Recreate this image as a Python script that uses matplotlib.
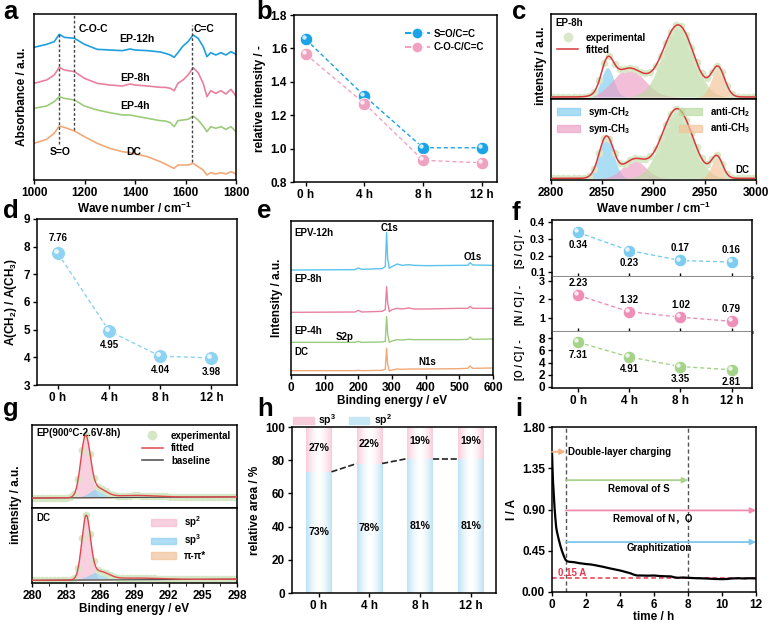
import numpy as np
import matplotlib
matplotlib.use("Agg")
import matplotlib.pyplot as plt
from matplotlib import transforms
from matplotlib.lines import Line2D
from matplotlib.patches import Patch

plt.rcParams["font.family"] = ["Liberation Sans", "DejaVu Sans", "Noto Sans CJK SC"]
plt.rcParams["font.weight"] = "bold"
plt.rcParams["axes.labelweight"] = "bold"
plt.rcParams["mathtext.fontset"] = "custom"
plt.rcParams["mathtext.rm"] = "Liberation Sans:bold"
plt.rcParams["mathtext.it"] = "Liberation Sans:bold"
plt.rcParams["mathtext.bf"] = "Liberation Sans:bold"
plt.rcParams["mathtext.default"] = "rm"
plt.rcParams["axes.linewidth"] = 1.1

BLUE, PINK, GREEN, ORANGE = "#1E9FE0", "#E8819F", "#9DCB7C", "#F0AA78"

# ---------------- data ----------------
# (a) FTIR, a.u.
ftir_wn = [1000, 1050, 1080, 1100, 1120, 1160, 1200, 1250, 1300, 1350, 1380, 1400, 1450, 1500, 1520,
           1540, 1555, 1570, 1590, 1610, 1630, 1650, 1670, 1685, 1700, 1720, 1740, 1760, 1780, 1800]
ftir_12h = [398, 407, 415, 437, 428, 425, 407, 392, 390, 388, 393, 390, 388, 384, 380,
            375, 368, 382, 402, 415, 435, 425, 400, 370, 382, 375, 382, 375, 385, 377]
ftir_8h = [290, 300, 315, 338, 330, 325, 305, 290, 285, 282, 288, 285, 282, 278, 278,
           275, 268, 290, 300, 315, 337, 322, 290, 250, 268, 260, 268, 258, 272, 252]
ftir_4h = [215, 222, 235, 250, 245, 240, 222, 210, 202, 195, 195, 192, 185, 178, 177,
           172, 160, 178, 180, 182, 192, 180, 162, 145, 160, 155, 160, 152, 160, 145]
ftir_dc = [110, 122, 140, 162, 158, 147, 130, 110, 95, 85, 82, 78, 70, 55, 48,
           40, 35, 45, 45, 45, 50, 40, 30, 15, 22, 18, 22, 18, 25, 18]

times = ["0 h", "4 h", "8 h", "12 h"]
# (b)
so_cc = [1.655, 1.315, 1.005, 1.005]
coc_cc = [1.565, 1.27, 0.93, 0.915]

# (c) fitted peaks: centre, height, width
c_names = ["sym-CH$_2$", "sym-CH$_3$", "anti-CH$_2$", "anti-CH$_3$"]
c_ep_center = [2855, 2876, 2924, 2963]
c_ep_height = [88, 85, 215, 85]
c_ep_width = [6, 15, 15, 6.5]
c_dc_center = [2854, 2881, 2923, 2962]
c_dc_height = [125, 55, 210, 62]
c_dc_width = [7, 11, 15, 5.5]

# (d)
ch_ratio = [7.76, 4.95, 4.04, 3.98]

# (e) XPS survey
xps_ev = [0, 190, 200, 210, 270, 280, 284, 287, 292, 300, 315, 330, 350, 365, 400, 500, 525, 532, 540, 600]
xps_dc = [0, 0, 1, 0, 1, 4, 67, 20, 0, 2, 5, 4, 5, 5, 5, 6, 7, 14, 7, 8]
xps_4h = [0, 0, 3, 0, 1, 3, 77, 25, 0, 4, 8, 7, 9, 8, 8, 8, 9, 16, 9, 10]
xps_8h = [0, 1, 6, 1, 3, 8, 77, 30, 2, 8, 12, 10, 13, 10, 10, 12, 12, 18, 12, 12]
xps_12h = [0, 1, 6, 2, 4, 10, 112, 35, 5, 10, 18, 14, 16, 14, 13, 14, 14, 22, 15, 14]
xps_offset = [13, 98, 188, 315]

# (f)
s_c = [0.34, 0.23, 0.17, 0.16]
n_c = [2.23, 1.32, 1.02, 0.79]
o_c = [7.31, 4.91, 3.35, 2.81]

# (g) C1s fit: sp2, sp3, pi-pi*
g_names = ["sp$^2$", "sp$^3$", "π-π*"]
g_ep_center = [284.7, 285.8, 289.0]
g_ep_height = [180, 26, 6]
g_ep_width = [0.42, 0.7, 2.0]
g_dc_center = [284.75, 285.9, 289.0]
g_dc_height = [185, 24, 5]
g_dc_width = [0.38, 0.8, 2.2]

# (h)
sp2_area = [73, 78, 81, 81]
sp3_area = [27, 22, 19, 19]

# (i) current vs time
t_h = [0, 0.03, 0.06, 0.1, 0.15, 0.2, 0.25, 0.3, 0.4, 0.5, 0.6, 0.7, 0.8, 0.9, 1.0, 1.3, 1.6, 2.0,
       2.3, 2.6, 3.0, 3.3, 3.6, 4.0, 4.3, 4.6, 4.8, 5.0, 5.3, 5.6, 6.0, 6.3, 6.6, 7.0, 7.2, 7.4,
       7.7, 8.0, 8.3, 8.6, 9.0, 9.3, 9.6, 10.0, 10.3, 10.6, 11.0, 11.3, 11.6, 12.0]
current = [1.53, 1.35, 1.2, 1.08, 0.92, 0.8, 0.7, 0.65, 0.57, 0.5, 0.44, 0.39, 0.35, 0.335, 0.33,
           0.325, 0.315, 0.305, 0.3, 0.29, 0.275, 0.262, 0.25, 0.235, 0.22, 0.205, 0.19, 0.18,
           0.18, 0.178, 0.18, 0.175, 0.172, 0.17, 0.16, 0.155, 0.158, 0.155, 0.152, 0.15, 0.148,
           0.145, 0.142, 0.14, 0.142, 0.148, 0.15, 0.147, 0.15, 0.148]

W, H = 769, 623
fig = plt.figure(figsize=(W / 100, H / 100), dpi=100)


def px_axes(l, t, r, b):
    return fig.add_axes([l / W, 1 - b / H, (r - l) / W, (b - t) / H])


def style(ax, size=8.5):
    ax.tick_params(direction="out", length=3, width=1, labelsize=size, pad=2)
    for lab in ax.get_xticklabels() + ax.get_yticklabels():
        lab.set_fontweight("bold")


def gauss(x, c, h, s):
    return h * np.exp(-0.5 * ((x - c) / s) ** 2)


def sphere(ax, x, y, color, ms=9, ls="--"):
    ax.plot(x, y, ls=ls, color=color, lw=1, zorder=2, dashes=(3, 2))
    ax.plot(x, y, "o", ms=ms, mfc=color, mec="white", mew=0.6, ls="none", zorder=3)
    hl = transforms.offset_copy(ax.transData, fig=fig, x=-1.4, y=1.4, units="points")
    ax.plot(x, y, "o", ms=ms * 0.35, mfc="white", mec="none", alpha=0.8, ls="none",
            transform=hl, zorder=4)


for lab, x, y in [("a", 3, 19), ("b", 256, 19), ("c", 512, 19), ("d", 3, 218), ("e", 257, 218),
                  ("f", 512, 220), ("g", 3, 416), ("h", 257, 416), ("i", 515, 416)]:
    fig.text(x / W, 1 - y / H, lab, fontsize=18.5, fontweight="bold", va="baseline", ha="left")

# ---------------- (a) ----------------
ax = px_axes(34, 14, 236, 180)
for vals, col in zip([ftir_12h, ftir_8h, ftir_4h, ftir_dc], [BLUE, PINK, GREEN, ORANGE]):
    ax.plot(ftir_wn, vals, color=col, lw=1.2)
ax.plot([1100, 1100], [108, 440], ls=(0, (2, 1.5)), color="#444444", lw=1)
ax.plot([1160, 1160], [150, 500], ls=(0, (2, 1.5)), color="#444444", lw=1)
ax.plot([1625, 1625], [55, 465], ls=(0, (2, 1.5)), color="#444444", lw=1)
for txt, x, y, ha in [("C-O-C", 1178, 452, "left"), ("C=C", 1634, 452, "left"), ("S=O", 1103, 85, "center"),
                      ("EP-12h", 1408, 422, "center"), ("EP-8h", 1400, 307, "center"),
                      ("EP-4h", 1400, 222, "center"), ("DC", 1395, 85, "center")]:
    ax.text(x, y, txt, ha=ha, va="center", fontsize=7.5, fontweight="bold")
ax.set_xlim(1000, 1800)
ax.set_ylim(0, 498)
ax.set_xticks([1000, 1200, 1400, 1600, 1800])
ax.set_yticks([])
ax.set_xlabel("Wave number / cm$^{-1}$", fontsize=8.5, labelpad=1)
ax.set_ylabel("Absorbance / a.u.", fontsize=8.5, labelpad=4)
style(ax)

# ---------------- (b) ----------------
ax = px_axes(294, 15, 497, 182)
xi = np.arange(len(times))
sphere(ax, xi, so_cc, "#1AA3E6")
sphere(ax, xi, coc_cc, "#F0A3C0")
handles = [Line2D([], [], color="#1AA3E6", ls="--", marker="o", ms=8, mec="white", label="S=O/C=C"),
           Line2D([], [], color="#F0A3C0", ls="--", marker="o", ms=8, mec="white", label="C-O-C/C=C")]
ax.legend(handles=handles, loc="upper right", frameon=False, fontsize=7, handlelength=2.6,
          bbox_to_anchor=(0.98, 0.97), labelspacing=0.35, handletextpad=0.4)
ax.set_xlim(-0.2, 3.26)
ax.set_ylim(0.8, 1.8)
ax.set_xticks(xi, times)
ax.set_yticks([0.8, 1.0, 1.2, 1.4, 1.6, 1.8], ["0.8", "1.0", "1.2", "1.4", "1.6", "1.8"])
ax.set_ylabel("relative intensity / -", fontsize=8.5, labelpad=3)
style(ax)

# ---------------- (c) ----------------
c_cols = ["#7FCBF0", "#EE9CC4", "#B9DA9E", "#F5C095"]
wn = np.linspace(2800, 3000, 801)
wn_dots = np.arange(2802, 3000, 5.0)
axt = px_axes(551, 14, 756, 99)
axb = px_axes(551, 99, 756, 180)
for a_, cen, hei, wid, lim in [(axt, c_ep_center, c_ep_height, c_ep_width, (-6, 248)),
                               (axb, c_dc_center, c_dc_height, c_dc_width, (-5, 239))]:
    total = np.zeros_like(wn)
    dots = np.zeros_like(wn_dots)
    for c, h, s, col in zip(cen, hei, wid, c_cols):
        comp = gauss(wn, c, h, s)
        total += comp
        dots += gauss(wn_dots, c, h, s)
        a_.fill_between(wn, 0, comp, color=col, alpha=0.65, lw=0)
    a_.plot(wn_dots, dots, "o", ms=5.5, color="#D8E8C8", mec="none", zorder=2)
    a_.plot(wn, total, color="#D9383A", lw=1.1, zorder=3)
    a_.set_xlim(2800, 3000)
    a_.set_ylim(*lim)
    a_.set_yticks([])
    a_.set_xticks([2800, 2850, 2900, 2950, 3000])
    style(a_)
axt.tick_params(labelbottom=False, length=0)
axt.text(0.02, 0.95, "EP-8h", transform=axt.transAxes, fontsize=7, va="top", fontweight="bold")
axt.legend(handles=[Line2D([], [], marker="o", ls="none", ms=6, color="#D8E8C8", label="experimental"),
                    Line2D([], [], color="#D9383A", lw=1.1, label="fitted")],
           loc="upper left", bbox_to_anchor=(0.0, 0.85), frameon=False, fontsize=7, handlelength=2.2,
           borderaxespad=0.2, labelspacing=0.2)
axb.text(0.97, 0.06, "DC", transform=axb.transAxes, fontsize=7, ha="right", va="bottom", fontweight="bold")
lg = axb.legend(handles=[Patch(color=c_cols[0], alpha=0.65, label=c_names[0]),
                         Patch(color=c_cols[1], alpha=0.65, label=c_names[1])],
                loc="upper left", frameon=False, fontsize=7, handlelength=2.4, borderaxespad=0.2,
                labelspacing=0.3)
axb.add_artist(lg)
axb.legend(handles=[Patch(color=c_cols[2], alpha=0.65, label=c_names[2]),
                    Patch(color=c_cols[3], alpha=0.65, label=c_names[3])],
           loc="upper right", frameon=False, fontsize=7, handlelength=2.4, borderaxespad=0.2,
           labelspacing=0.3)
axb.set_xlabel("Wave number / cm$^{-1}$", fontsize=8.5, labelpad=1)
fig.text(541 / W, 1 - 66 / H, "intensity / a.u.", rotation=90, fontsize=8.5, fontweight="bold",
         ha="center", va="center")

# ---------------- (d) ----------------
ax = px_axes(37, 219, 237, 385)
sphere(ax, xi, ch_ratio, "#8ED3F2", ms=10)
for i, v in enumerate(ch_ratio):
    ax.text(i, v + 0.55 if i == 0 else v - 0.5, f"{v:.2f}", ha="center", va="center", fontsize=7)
ax.set_xlim(-0.41, 3.5)
ax.set_ylim(3, 9)
ax.set_xticks(xi, times)
ax.set_yticks(range(3, 10))
ax.set_ylabel("A(CH$_2$) / A(CH$_3$)", fontsize=8.5, labelpad=3)
style(ax)

# ---------------- (e) ----------------
ax = px_axes(291, 221, 493, 375)
for vals, off, col in zip([xps_dc, xps_4h, xps_8h, xps_12h], xps_offset, [ORANGE, GREEN, PINK, "#5BC4EE"]):
    ax.plot(xps_ev, np.array(vals) + off, color=col, lw=1)
for txt, x, y in [("EPV-12h", 10, 425), ("C1s", 293, 440), ("O1s", 540, 355), ("EP-8h", 10, 288),
                  ("EP-4h", 10, 132), ("S2p", 160, 115), ("DC", 10, 70), ("N1s", 405, 40)]:
    ax.text(x, y, txt, ha="left" if x < 100 else "center", va="center", fontsize=7)
ax.set_xlim(0, 600)
ax.set_ylim(0, 462)
ax.set_yticks([])
ax.set_xticks(range(0, 601, 100))
ax.set_xlabel("Binding energy / eV", fontsize=8.5, labelpad=1)
ax.set_ylabel("Intensity / a.u.", fontsize=8.5, labelpad=6)
style(ax)

# ---------------- (f) ----------------
f_axes = [px_axes(552, 220, 752, 277), px_axes(552, 277, 752, 332), px_axes(552, 332, 752, 388)]
f_data = [s_c, n_c, o_c]
f_cols = ["#7CCDF0", "#EE8FB8", "#A6D38A"]
f_lims = [(0.07, 0.415), (0.2, 3.24), (-0.17, 9.0)]
f_ticks = [[0.1, 0.2, 0.3, 0.4], [1, 2, 3], [0, 2, 4, 6, 8]]
f_tlabs = [["0.1", "0.2", "0.3", "0.4"], ["1", "2", "3"], ["0", "2", "4", "6", "8"]]
f_labels = ["[S / C] / -", "[N / C] / -", "[O / C] / -"]
f_above = [[False, False, True, True], [True] * 4, [False] * 4]
for k, (a_, vals) in enumerate(zip(f_axes, f_data)):
    sphere(a_, xi, vals, f_cols[k], ms=9)
    lo, hi = f_lims[k]
    d = (hi - lo) * 0.22
    for i, v in enumerate(vals):
        a_.text(i, v + d if f_above[k][i] else v - d, f"{v:.2f}", ha="center", va="center", fontsize=7)
    a_.set_xlim(-0.51, 3.4)
    a_.set_ylim(lo, hi)
    a_.set_xticks(xi, times)
    a_.set_yticks(f_ticks[k], f_tlabs[k])
    a_.set_ylabel(f_labels[k], fontsize=7)
    a_.yaxis.set_label_coords(-0.135, 0.5)
    style(a_, size=8.5 if k == 2 else 7.8)
    if k < 2:
        a_.tick_params(axis="x", direction="in", labelbottom=False)
        a_.spines["bottom"].set_color("#8C8C8C")
        a_.spines["bottom"].set_linewidth(2.2)
    if k > 0:
        a_.spines["top"].set_visible(False)

# ---------------- (g) ----------------
g_cols = ["#F6BDD2", "#8FD0F0", "#F0C39A"]
ev = np.linspace(280, 298, 901)
ev_dots = np.arange(280.2, 298, 0.35)
gt = px_axes(32, 425, 237, 508)
gb = px_axes(32, 508, 237, 583)
for a_, cen, hei, wid, lim in [(gt, g_ep_center, g_ep_height, g_ep_width, (-30, 220)),
                               (gb, g_dc_center, g_dc_height, g_dc_width, (-8, 217))]:
    base = (ev - 280) * 0.2
    base_d = (ev_dots - 280) * 0.2
    total = base.copy()
    dots = base_d.copy()
    for c, h, s, col in zip(cen, hei, wid, g_cols):
        comp = gauss(ev, c, h, s)
        total += comp
        dots += gauss(ev_dots, c, h, s)
        a_.fill_between(ev, base, base + comp, color=col, alpha=0.7, lw=0.6, edgecolor=col)
    a_.plot(ev_dots, dots, "o", ms=5.5, color="#D5E8C6", mec="none", zorder=2)
    a_.plot(ev, base, color="#4A4A4A", lw=0.8, zorder=3)
    a_.plot(ev, total, color="#E0474C", lw=1.0, zorder=4)
    a_.set_xlim(280, 298)
    a_.set_ylim(*lim)
    a_.set_yticks([])
    a_.set_xticks(range(280, 299, 3))
    a_.set_xticks(np.arange(281.5, 298, 3), minor=True)
    style(a_)
gt.tick_params(labelbottom=False, length=0)
gt.tick_params(which="minor", length=0)
gt.text(0.02, 0.96, "EP(900°C-2.6V-8h)", transform=gt.transAxes, fontsize=7, va="top", fontweight="bold")
gt.legend(handles=[Line2D([], [], marker="o", ls="none", ms=6, color="#D5E8C6", label="experimental"),
                   Line2D([], [], color="#E0474C", lw=1.1, label="fitted"),
                   Line2D([], [], color="#4A4A4A", lw=1.1, label="baseline")],
          loc="upper right", frameon=False, fontsize=7, handlelength=2.2, borderaxespad=0.2,
          labelspacing=0.25)
gb.text(0.02, 0.93, "DC", transform=gb.transAxes, fontsize=7, va="top", fontweight="bold")
gb.legend(handles=[Patch(color=c, alpha=0.7, label=n) for c, n in zip(g_cols, g_names)],
          loc="upper left", bbox_to_anchor=(0.55, 1.0), frameon=False, fontsize=7, handlelength=2.6,
          borderaxespad=0.2, labelspacing=0.3)
gb.set_xlabel("Binding energy / eV", fontsize=8.5, labelpad=1)
fig.text(16 / W, 1 - 505 / H, "intensity / a.u.", rotation=90, fontsize=8.5, fontweight="bold",
         ha="center", va="center")

# ---------------- (h) ----------------
ax = px_axes(292, 427, 496, 593)
bw = 0.5


def grad_bar(ax, x, y0, y1, rgb):
    t = np.abs(np.linspace(-1, 1, 64)) ** 1.6
    img = (1 - t)[:, None] * np.ones(3) + t[:, None] * np.array(rgb)
    ax.imshow(img[None, :, :], extent=[x - bw / 2, x + bw / 2, y0, y1], aspect="auto", zorder=2)


for i in range(len(times)):
    grad_bar(ax, i, 0, sp2_area[i], (0.74, 0.89, 0.96))
    grad_bar(ax, i, sp2_area[i], sp2_area[i] + sp3_area[i], (0.97, 0.80, 0.86))
    ax.text(i, sp2_area[i] / 2, f"{sp2_area[i]}%", ha="center", va="center", fontsize=7.5, zorder=3)
    ax.text(i, sp2_area[i] + sp3_area[i] / 2 + 1, f"{sp3_area[i]}%", ha="center", va="center",
            fontsize=7.5, zorder=3)
for i in range(len(times) - 1):
    ax.plot([i + bw / 2, i + 1 - bw / 2], [sp2_area[i], sp2_area[i + 1]], ls="--", color="#222222",
            lw=1.2, zorder=3)
ax.legend(handles=[Patch(color="#F6CCDA", label="sp$^3$"), Patch(color="#C6E7F6", label="sp$^2$")],
          loc="lower left", bbox_to_anchor=(0.0, 0.985), ncol=2, frameon=False, fontsize=7.5,
          handlelength=2.0, borderaxespad=0.0, borderpad=0.1, columnspacing=1.2, handletextpad=0.4)
ax.set_xlim(-0.53, 3.5)
ax.set_ylim(0, 100)
ax.set_xticks(xi, times)
ax.set_yticks(range(0, 101, 20))
ax.set_ylabel("relative area / %", fontsize=8.5, labelpad=3)
style(ax)

# ---------------- (i) ----------------
ax = px_axes(552, 427, 756, 592)
ax.plot(t_h, current, color="black", lw=1.6, zorder=3)
ax.axhline(0.15, color="#E8384F", ls="--", lw=1.1, dashes=(3, 2))
ax.text(0.35, 0.21, "0.15 A", color="#E8384F", fontsize=7, va="center")
for xv in [0.8, 8.0]:
    ax.plot([xv, xv], [0, 1.8], ls="--", color="#555555", lw=1, dashes=(3, 2))
for x0, x1, y, col in [(0, 0.8, 1.53, "#F4B183"), (0.8, 8.0, 1.22, "#A9D18E"),
                       (0.8, 12.0, 0.89, "#F28CB1"), (0.8, 12.0, 0.545, "#7CC8EE")]:
    ax.annotate("", xy=(x1, y), xytext=(x0, y),
                arrowprops=dict(arrowstyle="-|>", color=col, lw=1.3, mutation_scale=8,
                                shrinkA=0, shrinkB=0))
ax.text(0.95, 1.53, "Double-layer charging", fontsize=7, va="center")
ax.text(5.1, 1.12, "Removal of S", fontsize=7, va="center", ha="center")
ax.text(5.9, 0.807, "Removal of N，O", fontsize=7, va="center", ha="center",
        family=["Liberation Sans", "Noto Sans CJK SC"])
ax.text(6.3, 0.484, "Graphitization", fontsize=7, va="center", ha="center")
ax.set_xlim(0, 12)
ax.set_ylim(0, 1.8)
ax.set_xticks(range(0, 13, 2))
ax.set_yticks([0, 0.45, 0.9, 1.35, 1.8], ["0.00", "0.45", "0.90", "1.35", "1.80"])
ax.set_xlabel("time / h", fontsize=8.5, labelpad=0)
ax.set_ylabel("I / A", fontsize=8.5, labelpad=3)
style(ax)

fig.savefig("out.png", dpi=100)
